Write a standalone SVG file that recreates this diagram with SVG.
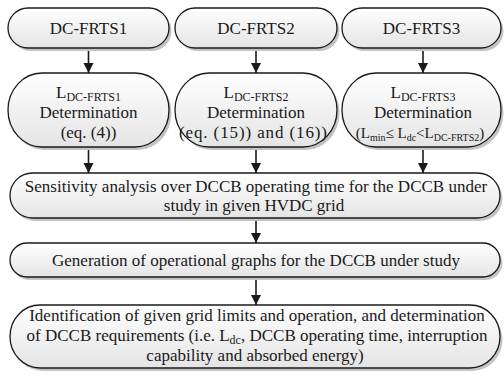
<svg xmlns="http://www.w3.org/2000/svg" width="504" height="376" viewBox="0 0 504 376">
<defs>
<linearGradient id="g" x1="0" y1="0" x2="0" y2="1">
<stop offset="0" stop-color="#ffffff"/>
<stop offset="1" stop-color="#e4e4e4"/>
</linearGradient>
<marker id="ah" viewBox="0 0 10 10" refX="10" refY="5" markerWidth="10" markerHeight="11" markerUnits="userSpaceOnUse" orient="auto">
<path d="M0,0 L10,5 L0,10 z" fill="#1a1a1a"/>
</marker>
</defs>
<style>
.sh{fill:#c4c4c4;stroke:none}
.bx{fill:url(#g);stroke:#1a1a1a;stroke-width:1.3}
text{font-family:"Liberation Serif","Times New Roman",serif;font-size:17px;fill:#1a1a1a;text-anchor:middle}
.sub{font-size:12px}
.s3{font-size:15px}
.sub3{font-size:10px}
.cn{stroke:#1a1a1a;stroke-width:1.6;fill:none;marker-end:url(#ah)}
</style>
<rect width="504" height="376" fill="#ffffff"/>

<g id="connectors">
<line class="cn" x1="88.5" y1="48" x2="88.5" y2="73"/>
<line class="cn" x1="256" y1="48" x2="256" y2="73"/>
<line class="cn" x1="423" y1="48" x2="423" y2="73"/>
<line class="cn" x1="88.5" y1="147" x2="88.5" y2="173"/>
<line class="cn" x1="256" y1="147" x2="256" y2="173"/>
<line class="cn" x1="423" y1="147" x2="423" y2="173"/>
<line class="cn" x1="256" y1="218" x2="256" y2="243"/>
<line class="cn" x1="256" y1="277" x2="256" y2="305"/>
</g>

<g id="frts1">
<rect class="sh" x="10.5" y="11" width="161" height="40" rx="20"/>
<rect class="bx" x="8" y="8" width="161" height="40" rx="20"/>
<text x="88.5" y="34" font-family="Liberation Serif, serif">DC-FRTS1</text>
</g>
<g id="frts2">
<rect class="sh" x="177.5" y="11" width="162" height="40" rx="20"/>
<rect class="bx" x="175" y="8" width="162" height="40" rx="20"/>
<text x="256" y="34">DC-FRTS2</text>
</g>
<g id="frts3">
<rect class="sh" x="344.5" y="11" width="159" height="40" rx="20"/>
<rect class="bx" x="342" y="8" width="159" height="40" rx="20"/>
<text x="421.5" y="34">DC-FRTS3</text>
</g>

<g id="ldet1">
<rect class="sh" x="10.5" y="76" width="161" height="74" rx="34" ry="37"/>
<rect class="bx" x="8" y="73" width="161" height="74" rx="34" ry="37"/>
<text x="88.5" y="98">L<tspan class="sub" dy="3">DC-FRTS1</tspan></text>
<text x="88.5" y="118">Determination</text>
<text x="88.5" y="138">(eq. (4))</text>
</g>
<g id="ldet2">
<rect class="sh" x="177.5" y="76" width="162" height="74" rx="34" ry="37"/>
<rect class="bx" x="175" y="73" width="162" height="74" rx="34" ry="37"/>
<text x="256" y="98">L<tspan class="sub" dy="3">DC-FRTS2</tspan></text>
<text x="256" y="118">Determination</text>
<text x="253" y="138" textLength="148" lengthAdjust="spacing">(eq. (15)) and (16))</text>
</g>
<g id="ldet3">
<rect class="sh" x="344.5" y="76" width="159" height="74" rx="34" ry="37"/>
<rect class="bx" x="342" y="73" width="159" height="74" rx="34" ry="37"/>
<text x="423" y="98">L<tspan class="sub" dy="3">DC-FRTS3</tspan></text>
<text x="423" y="118">Determination</text>
<text x="420" y="138" class="s3">(L<tspan class="sub3" dy="3">min</tspan><tspan dy="-3">≤ L</tspan><tspan class="sub3" dy="3">dc</tspan><tspan dy="-3">&lt;L</tspan><tspan class="sub3" dy="3">DC-FRTS2</tspan><tspan dy="-3">)</tspan></text>
</g>

<g id="sensitivity">
<rect class="sh" x="12.5" y="176" width="490" height="45" rx="22.5"/>
<rect class="bx" x="10" y="173" width="490" height="45" rx="22.5"/>
<text x="256" y="192">Sensitivity analysis over DCCB operating time for the DCCB under</text>
<text x="254" y="211">study in given HVDC grid</text>
</g>

<g id="generation">
<rect class="sh" x="12.5" y="246" width="490" height="34" rx="17"/>
<rect class="bx" x="10" y="243" width="490" height="34" rx="17"/>
<text x="256" y="266">Generation of operational graphs for the DCCB under study</text>
</g>

<g id="identification">
<rect class="sh" x="12.5" y="308" width="490" height="63" rx="30" ry="31.5"/>
<rect class="bx" x="10" y="305" width="490" height="63" rx="30" ry="31.5"/>
<text x="257" y="321">Identification of given grid limits and operation, and determination</text>
<text x="257" y="341">of DCCB requirements (i.e. L<tspan class="sub" dy="3">dc</tspan><tspan dy="-3">, DCCB operating time, interruption</tspan></text>
<text x="255" y="361">capability and absorbed energy)</text>
</g>
</svg>
